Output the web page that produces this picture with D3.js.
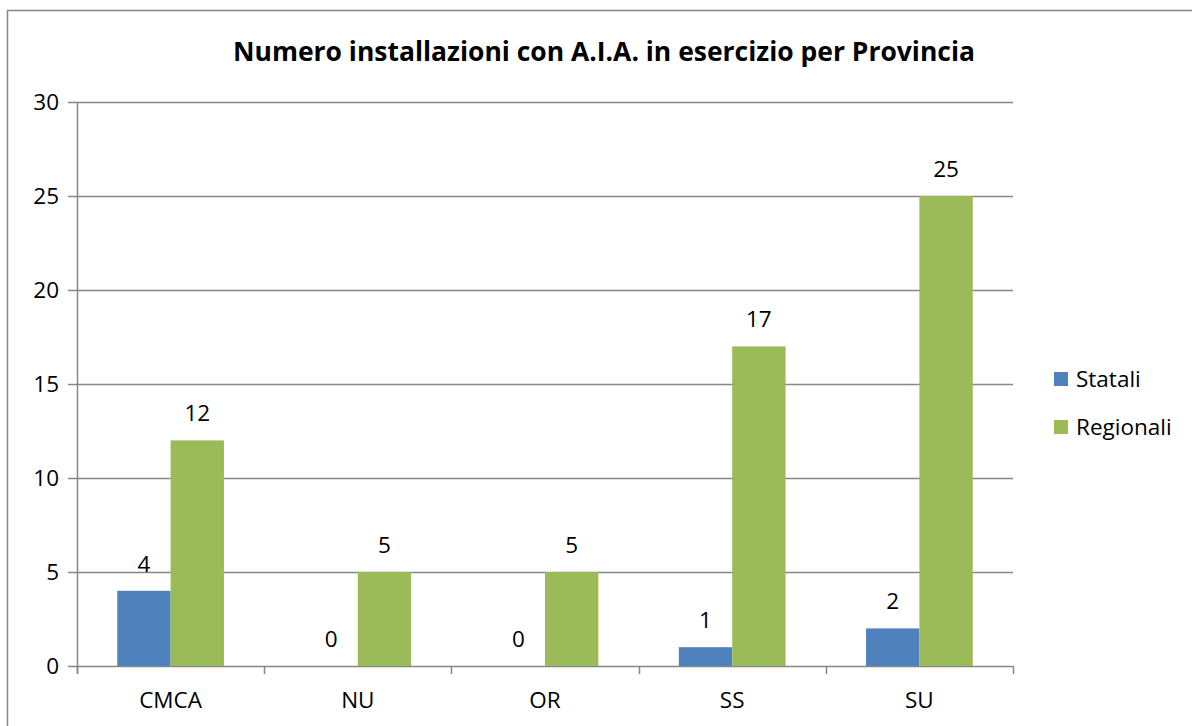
<!DOCTYPE html>
<html><head><meta charset="utf-8">
<script src="https://cdn.jsdelivr.net/npm/d3@7"></script>
<style>body{margin:0;background:#fff}svg{display:block}text{font-family:"Open Sans","Noto Sans",sans-serif;fill:#000}</style>
</head><body>
<svg id="c" width="1192" height="726"></svg>
<script>
const categories = ["CMCA","NU","OR","SS","SU"];
const seriesNames = ["Statali","Regionali"];
const statali = [4,0,0,1,2];
const regionali = [12,5,5,17,25];
const yTicks = [0,5,10,15,20,25,30];
const colors = ["#4F81BD","#9BBB59"];
const title = "Numero installazioni con A.I.A. in esercizio per Provincia";

(function(){
const svg = d3.select("#c");
const pL = 77, pR = 1013, pT = 102, pB = 666;
const grid = "#868686";
const fs = 22.5;

svg.append("rect").attr("x",7.5).attr("y",10.5).attr("width",1300).attr("height",800)
  .attr("fill","none").attr("stroke",grid).attr("stroke-width",1.5);

const y = d3.scaleLinear().domain([0,30]).range([pB, pT]);
const x0 = d3.scaleBand().domain(categories).range([pL,pR]).padding(0);
const bw = x0.bandwidth();
const x1 = d3.scaleBand().domain(seriesNames).range([bw*0.215, bw*0.785]).padding(0);

svg.append("g").selectAll("line").data(yTicks).join("line")
  .attr("x1",pL-9).attr("x2",pR).attr("y1",d=>Math.round(y(d))+0.5).attr("y2",d=>Math.round(y(d))+0.5)
  .attr("stroke",grid).attr("stroke-width",1.5);

svg.append("line").attr("x1",pL+0.5).attr("x2",pL+0.5).attr("y1",pT).attr("y2",pB+8)
  .attr("stroke",grid).attr("stroke-width",1.5);

const bounds = categories.map(c=>x0(c)).concat([pR]);
svg.append("g").selectAll("line").data(bounds).join("line")
  .attr("x1",d=>Math.round(d)+0.5).attr("x2",d=>Math.round(d)+0.5).attr("y1",pB).attr("y2",pB+8)
  .attr("stroke",grid).attr("stroke-width",1.5);

svg.append("g").selectAll("text").data(yTicks).join("text")
  .attr("x",59).attr("y",d=>y(d)).attr("dy","0.35em").attr("text-anchor","end")
  .attr("font-size",fs).text(d=>d);

const data = categories.map((c,i)=>({c, vals:[statali[i],regionali[i]]}));
const g = svg.append("g").selectAll("g").data(data).join("g").attr("transform",d=>`translate(${x0(d.c)},0)`);
g.selectAll("rect").data(d=>d.vals.map((v,j)=>({v,s:seriesNames[j],j}))).join("rect")
  .attr("x",d=>x1(d.s)).attr("width",x1.bandwidth()).attr("y",d=>y(d.v)).attr("height",d=>y(0)-y(d.v))
  .attr("fill",d=>colors[d.j]);
g.selectAll("text").data(d=>d.vals.map((v,j)=>({v,s:seriesNames[j],j}))).join("text")
  .attr("x",d=>x1(d.s)+x1.bandwidth()/2).attr("y",d=>y(d.v)-27).attr("dy","0.35em")
  .attr("text-anchor","middle").attr("font-size",fs).text(d=>d.v);

svg.append("g").selectAll("text").data(categories).join("text")
  .attr("x",d=>x0(d)+bw/2).attr("y",700).attr("dy","0.35em").attr("text-anchor","middle")
  .attr("font-size",fs).text(d=>d);

svg.append("text").attr("x",604).attr("y",52).attr("dy","0.35em").attr("text-anchor","middle")
  .attr("font-size",26).attr("font-weight","bold").attr("textLength",742).attr("lengthAdjust","spacingAndGlyphs").text(title);

const lg = svg.append("g").selectAll("g").data(seriesNames).join("g")
  .attr("transform",(d,i)=>`translate(1054,${379+i*48})`);
lg.append("rect").attr("x",0).attr("y",-7).attr("width",14).attr("height",14).attr("fill",(d,i)=>colors[i]);
lg.append("text").attr("x",22).attr("y",0).attr("dy","0.35em").attr("font-size",fs).text(d=>d);
})();
</script>
</body></html>
